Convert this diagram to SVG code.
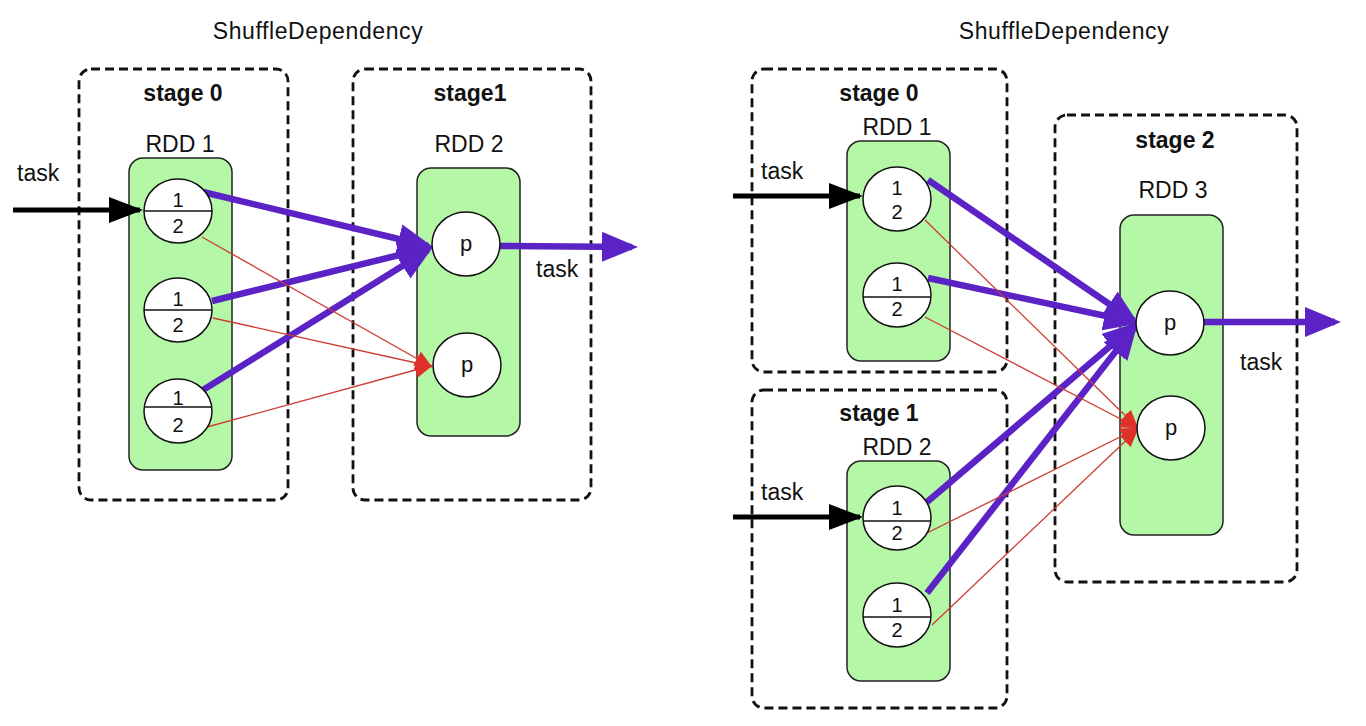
<svg xmlns="http://www.w3.org/2000/svg" width="1366" height="726" viewBox="0 0 1366 726">
<style>
text{font-family:"Liberation Sans",Arial,sans-serif;fill:#111}
.title{font-size:23px;letter-spacing:0.6px}
.lbl{font-size:23px}
.stg{font-size:23px;font-weight:bold}
.num{font-size:20px}
.pp{font-size:22px}
.stage{fill:none;stroke:#111;stroke-width:2.8;stroke-dasharray:9 5}
.rdd{fill:#b4f7a6;stroke:#222;stroke-width:1.5}
.part{fill:#fff;stroke:#111;stroke-width:1.5}
.div{stroke:#111;stroke-width:1.5}
.shuf{stroke:#5b22c6;stroke-width:6.5;fill:none;marker-end:url(#ap)}
.out{stroke:#5b22c6;stroke-width:6.5;fill:none;marker-end:url(#ap)}
.narrow{stroke:#cc3b33;stroke-width:1.3;fill:none;marker-end:url(#ar)}
.task{stroke:#000;stroke-width:5;fill:none;marker-end:url(#ab)}
</style>
<defs>
<marker id="ap" markerUnits="userSpaceOnUse" markerWidth="36" markerHeight="30" refX="30" refY="15" orient="auto"><path d="M0,0 L36,15 L0,30 z" fill="#5b22c6"/></marker>
<marker id="ar" markerUnits="userSpaceOnUse" markerWidth="18" markerHeight="16" refX="15" refY="8" orient="auto"><path d="M0,0 L18,8 L0,16 z" fill="#e0302a"/></marker>
<marker id="ab" markerUnits="userSpaceOnUse" markerWidth="34" markerHeight="26" refX="31" refY="13" orient="auto"><path d="M0,0 L34,13 L0,26 z" fill="#000"/></marker>
</defs>
<rect width="1366" height="726" fill="#fff"/>

<text class="title" x="318" y="39" text-anchor="middle">ShuffleDependency</text>
<text class="title" x="1064" y="39" text-anchor="middle">ShuffleDependency</text>

<!-- Left diagram stages -->
<g id="L-stage0">
<rect class="stage" x="79" y="69" width="209" height="431" rx="12"/>
<text class="stg" x="183" y="101" text-anchor="middle">stage 0</text>
<text class="lbl" x="180" y="152" text-anchor="middle">RDD 1</text>
<rect class="rdd" x="129" y="158" width="103" height="312" rx="14"/>
</g>
<g id="L-stage1">
<rect class="stage" x="353" y="69" width="238" height="431" rx="12"/>
<text class="stg" x="470" y="101" text-anchor="middle">stage1</text>
<text class="lbl" x="469" y="152" text-anchor="middle">RDD 2</text>
<rect class="rdd" x="417" y="168" width="103" height="268" rx="14"/>
</g>

<!-- Right diagram stages -->
<g id="R-stage0">
<rect class="stage" x="752" y="69" width="255" height="303" rx="12"/>
<text class="stg" x="879" y="101" text-anchor="middle">stage 0</text>
<text class="lbl" x="897" y="135" text-anchor="middle">RDD 1</text>
<rect class="rdd" x="847" y="141" width="103" height="220" rx="14"/>
</g>
<g id="R-stage1">
<rect class="stage" x="752" y="390" width="255" height="318" rx="12"/>
<text class="stg" x="879" y="421" text-anchor="middle">stage 1</text>
<text class="lbl" x="897" y="455" text-anchor="middle">RDD 2</text>
<rect class="rdd" x="847" y="461" width="103" height="220" rx="14"/>
</g>
<g id="R-stage2">
<rect class="stage" x="1055" y="115" width="242" height="467" rx="12"/>
<text class="stg" x="1175" y="148" text-anchor="middle">stage 2</text>
<text class="lbl" x="1173" y="198" text-anchor="middle">RDD 3</text>
<rect class="rdd" x="1120" y="215" width="103" height="320" rx="14"/>
</g>

<!-- Connectors -->
<g id="connectors">
<line class="task" x1="13" y1="210" x2="140" y2="210"/>
<line class="shuf" x1="203" y1="192" x2="428" y2="246"/>
<line class="shuf" x1="212" y1="301" x2="428" y2="248"/>
<line class="shuf" x1="203" y1="390" x2="428" y2="250"/>
<line class="narrow" x1="202" y1="237" x2="430" y2="366"/>
<line class="narrow" x1="213" y1="318" x2="430" y2="366"/>
<line class="narrow" x1="207" y1="427" x2="430" y2="366"/>
<line class="out" x1="500" y1="246" x2="632" y2="247"/>

<line class="task" x1="733" y1="196" x2="860" y2="196"/>
<line class="task" x1="733" y1="517" x2="860" y2="517"/>
<line class="shuf" x1="928" y1="180" x2="1134" y2="321"/>
<line class="shuf" x1="928" y1="278" x2="1134" y2="322"/>
<line class="shuf" x1="927" y1="502" x2="1134" y2="326"/>
<line class="shuf" x1="927" y1="593" x2="1134" y2="328"/>
<line class="narrow" x1="925" y1="220" x2="1136" y2="426"/>
<line class="narrow" x1="925" y1="317" x2="1136" y2="427"/>
<line class="narrow" x1="927" y1="533" x2="1136" y2="429"/>
<line class="narrow" x1="932" y1="625" x2="1136" y2="431"/>
<line class="out" x1="1203" y1="322" x2="1335" y2="322"/>
</g>

<!-- Task labels -->
<text class="lbl" x="17" y="181">task</text>
<text class="lbl" x="536" y="277">task</text>
<text class="lbl" x="761" y="179">task</text>
<text class="lbl" x="761" y="500">task</text>
<text class="lbl" x="1240" y="370">task</text>

<!-- Left partitions -->
<g id="L-rdd1-p1"><ellipse class="part" cx="178" cy="211" rx="34" ry="32"/><line class="div" x1="144" y1="211" x2="212" y2="211"/><text class="num" x="178" y="207" text-anchor="middle">1</text><text class="num" x="178" y="233" text-anchor="middle">2</text></g>
<g id="L-rdd1-p2"><ellipse class="part" cx="178" cy="310" rx="34" ry="32"/><line class="div" x1="144" y1="310" x2="212" y2="310"/><text class="num" x="178" y="306" text-anchor="middle">1</text><text class="num" x="178" y="332" text-anchor="middle">2</text></g>
<g id="L-rdd1-p3"><ellipse class="part" cx="178" cy="411" rx="34" ry="32"/><line class="div" x1="144" y1="407" x2="212" y2="407"/><text class="num" x="178" y="405" text-anchor="middle">1</text><text class="num" x="178" y="432" text-anchor="middle">2</text></g>
<g id="L-rdd2-p1"><ellipse class="part" cx="466" cy="244" rx="34" ry="32"/><text class="pp" x="466" y="251" text-anchor="middle">p</text></g>
<g id="L-rdd2-p2"><ellipse class="part" cx="467" cy="365" rx="34" ry="32"/><text class="pp" x="467" y="372" text-anchor="middle">p</text></g>

<!-- Right partitions -->
<g id="R-rdd1-p1"><ellipse class="part" cx="897" cy="199" rx="34" ry="32"/><text class="num" x="897" y="195" text-anchor="middle">1</text><text class="num" x="897" y="219" text-anchor="middle">2</text></g>
<g id="R-rdd1-p2"><ellipse class="part" cx="897" cy="295" rx="34" ry="32"/><line class="div" x1="863" y1="297" x2="931" y2="297"/><text class="num" x="897" y="291" text-anchor="middle">1</text><text class="num" x="897" y="316" text-anchor="middle">2</text></g>
<g id="R-rdd2-p1"><ellipse class="part" cx="897" cy="518" rx="34" ry="32"/><line class="div" x1="863" y1="521" x2="931" y2="521"/><text class="num" x="897" y="515" text-anchor="middle">1</text><text class="num" x="897" y="540" text-anchor="middle">2</text></g>
<g id="R-rdd2-p2"><ellipse class="part" cx="897" cy="615" rx="34" ry="32"/><line class="div" x1="863" y1="617" x2="931" y2="617"/><text class="num" x="897" y="612" text-anchor="middle">1</text><text class="num" x="897" y="637" text-anchor="middle">2</text></g>
<g id="R-rdd3-p1"><ellipse class="part" cx="1170" cy="323" rx="34" ry="32"/><text class="pp" x="1170" y="330" text-anchor="middle">p</text></g>
<g id="R-rdd3-p2"><ellipse class="part" cx="1171" cy="428" rx="34" ry="32"/><text class="pp" x="1171" y="435" text-anchor="middle">p</text></g>
</svg>
